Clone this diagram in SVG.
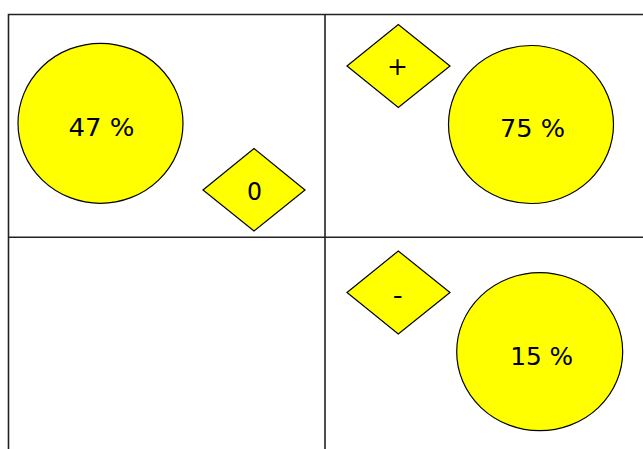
<svg xmlns="http://www.w3.org/2000/svg" width="643" height="449" viewBox="0 0 643 449">
<style>
.grid{stroke:#222;stroke-width:1.6;fill:none}
.shape{fill:#ffff00;stroke:#000;stroke-width:1.2}
.lbl{font-family:"DejaVu Sans",Verdana,sans-serif;font-size:25px;fill:#000;text-anchor:middle}
</style>
<rect width="643" height="449" fill="#fff"/>
<g id="grid">
<path class="grid" d="M8.5,449 V14.5 H643 M325,14.5 V449 M8.5,237.3 H643"/>
</g>
<g id="connectors"></g>
<g id="circle47">
<ellipse class="shape" cx="100.5" cy="123.3" rx="82.5" ry="80"/>
<text class="lbl" x="101.5" y="136" textLength="66" lengthAdjust="spacingAndGlyphs">47 %</text>
</g>
<g id="diamond0">
<polygon class="shape" points="203,190 254,148.5 305,190 254,231"/>
<text class="lbl" x="254.5" y="200" textLength="15" lengthAdjust="spacingAndGlyphs">0</text>
</g>
<g id="diamondPlus">
<polygon class="shape" points="347,66 398.3,24.5 450,66 398.3,107.5"/>
<text class="lbl" x="397.5" y="75">+</text>
</g>
<g id="circle75">
<ellipse class="shape" cx="531" cy="124.5" rx="82.5" ry="79"/>
<text class="lbl" x="532.5" y="136.5" textLength="65" lengthAdjust="spacingAndGlyphs">75 %</text>
</g>
<g id="diamondMinus">
<polygon class="shape" points="347,292.5 398.3,251 450,292.5 398.3,334"/>
<text class="lbl" x="397.7" y="304" textLength="10" lengthAdjust="spacingAndGlyphs">-</text>
</g>
<g id="circle15">
<ellipse class="shape" cx="539.7" cy="351.7" rx="83" ry="79"/>
<text class="lbl" x="541.7" y="365" textLength="63" lengthAdjust="spacingAndGlyphs">15 %</text>
</g>
</svg>
